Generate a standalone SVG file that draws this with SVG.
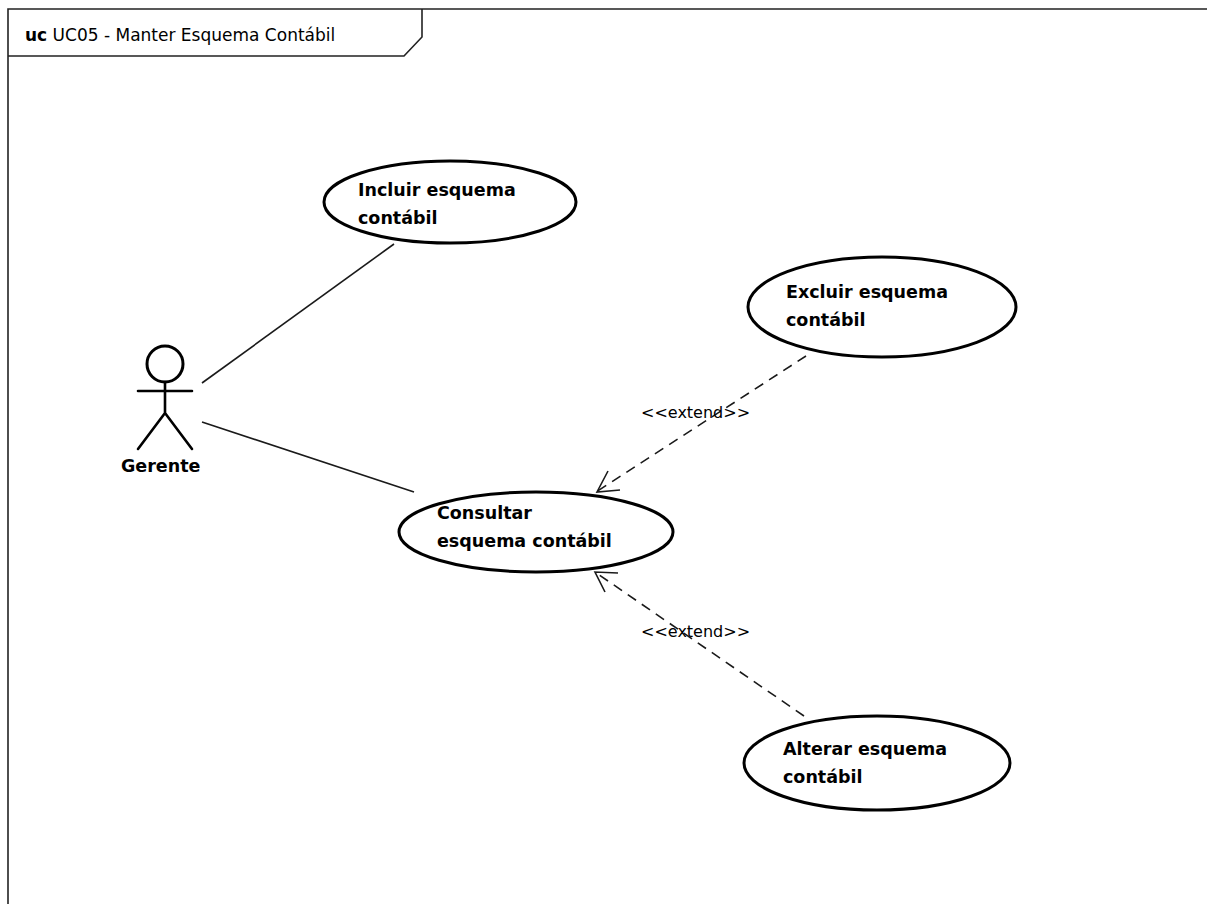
<svg xmlns="http://www.w3.org/2000/svg" width="1207" height="904" viewBox="0 0 1207 904">
<style>
text{font-family:"DejaVu Sans",Verdana,sans-serif;fill:#000}
.n{font-size:17.5px;font-weight:bold}
.l{font-size:16px}
.u{fill:#fff;stroke:#000;stroke-width:3}
.c{fill:none;stroke:#1a1a1a;stroke-width:1.6}
.d{stroke-dasharray:10 7}
.a{fill:none;stroke:#000;stroke-width:2.6;stroke-linecap:round}
</style>
<rect width="1207" height="904" fill="#fff"/>
<g id="frame">
<path d="M8 904V9H1207" fill="none" stroke="#222" stroke-width="1.6"/>
<path d="M8 56H404L422 37V9" fill="none" stroke="#222" stroke-width="1.6"/>
<text x="25" y="41" style="font-size:17px"><tspan font-weight="bold">uc</tspan> UC05 - Manter Esquema Contábil</text>
</g>
<g id="connectors">
<path class="c" d="M202 383L394 244"/>
<path class="c" d="M202 422L414 492"/>
<path class="c d" d="M806 356L596 492"/>
<path class="c" d="M608 471L597 492L620 490"/>
<path class="c d" d="M804 716L595 572"/>
<path class="c" d="M618 573L595 572L605 592"/>
<text class="l" x="641" y="418">&lt;&lt;extend&gt;&gt;</text>
<text class="l" x="641" y="637">&lt;&lt;extend&gt;&gt;</text>
</g>
<g id="gerente">
<circle cx="165" cy="364" r="18" fill="#fff" stroke="#000" stroke-width="3"/>
<path class="a" d="M165 382V413M138 391H192M165 413L138 449M165 413L192 449"/>
<text class="n" x="121" y="472">Gerente</text>
</g>
<g id="incluir">
<ellipse class="u" cx="450" cy="202" rx="126" ry="41"/>
<text class="n" x="358" y="196">Incluir esquema</text>
<text class="n" x="358" y="224">contábil</text>
</g>
<g id="excluir">
<ellipse class="u" cx="882" cy="307" rx="134" ry="50"/>
<text class="n" x="786" y="298">Excluir esquema</text>
<text class="n" x="786" y="326">contábil</text>
</g>
<g id="consultar">
<ellipse class="u" cx="536" cy="532" rx="137" ry="40"/>
<text class="n" x="437" y="519">Consultar</text>
<text class="n" x="437" y="547">esquema contábil</text>
</g>
<g id="alterar">
<ellipse class="u" cx="877" cy="763" rx="133" ry="47"/>
<text class="n" x="783" y="755">Alterar esquema</text>
<text class="n" x="783" y="783">contábil</text>
</g>
</svg>
